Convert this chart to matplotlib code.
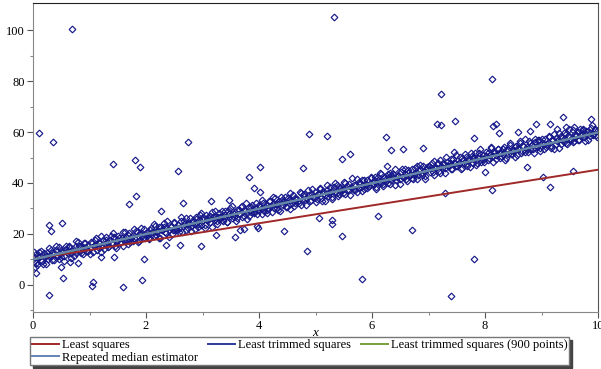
import numpy as np
import matplotlib
matplotlib.use("Agg")
import matplotlib.pyplot as plt

plt.rcParams['font.family'] = ['Liberation Serif', 'DejaVu Serif']

# points along the main band (first pass)
band_x = [
    0.02, 0.05, 0.08, 0.11, 0.14, 0.17, 0.20, 0.23, 0.26, 0.29, 0.31, 0.34, 0.37, 0.40, 0.43, 0.46, 0.49,
    0.52, 0.55, 0.58, 0.61, 0.64, 0.67, 0.70, 0.73, 0.76, 0.79, 0.82, 0.85, 0.88, 0.91, 0.94, 0.97,
    1.00, 1.03, 1.06, 1.09, 1.12, 1.15, 1.18, 1.21, 1.24, 1.27, 1.30, 1.33, 1.36, 1.39, 1.42, 1.45, 1.48,
    1.51, 1.54, 1.57, 1.60, 1.63, 1.66, 1.69, 1.72, 1.75, 1.78, 1.81, 1.84, 1.87, 1.90, 1.93, 1.96, 1.99,
    2.02, 2.05, 2.08, 2.11, 2.14, 2.17, 2.20, 2.23, 2.26, 2.29, 2.32, 2.35, 2.38, 2.41, 2.44, 2.47, 2.50,
    2.53, 2.56, 2.59, 2.62, 2.65, 2.68, 2.71, 2.74, 2.77, 2.80, 2.83, 2.86, 2.89, 2.92, 2.95, 2.98,
    3.01, 3.04, 3.07, 3.10, 3.13, 3.16, 3.19, 3.22, 3.25, 3.28, 3.31, 3.34, 3.37, 3.40, 3.43, 3.46, 3.49,
    3.52, 3.55, 3.58, 3.61, 3.64, 3.67, 3.70, 3.73, 3.76, 3.79, 3.82, 3.85, 3.88, 3.91, 3.94, 3.97,
    4.00, 4.03, 4.06, 4.09, 4.12, 4.15, 4.18, 4.21, 4.24, 4.27, 4.30, 4.33, 4.36, 4.39, 4.42, 4.45, 4.48,
    4.51, 4.54, 4.57, 4.60, 4.63, 4.66, 4.69, 4.72, 4.75, 4.78, 4.81, 4.84, 4.87, 4.90, 4.93, 4.96, 4.99,
    5.02, 5.05, 5.08, 5.11, 5.14, 5.17, 5.20, 5.23, 5.26, 5.29, 5.32, 5.35, 5.38, 5.41, 5.44, 5.47, 5.50,
    5.53, 5.56, 5.59, 5.62, 5.65, 5.68, 5.71, 5.74, 5.77, 5.80, 5.83, 5.86, 5.89, 5.92, 5.95, 5.98,
    6.01, 6.04, 6.07, 6.10, 6.13, 6.16, 6.19, 6.22, 6.25, 6.28, 6.31, 6.34, 6.37, 6.40, 6.43, 6.46, 6.49,
    6.52, 6.55, 6.58, 6.61, 6.64, 6.67, 6.70, 6.73, 6.76, 6.79, 6.82, 6.85, 6.88, 6.91, 6.94, 6.97,
    7.00, 7.03, 7.06, 7.09, 7.12, 7.15, 7.18, 7.21, 7.24, 7.27, 7.30, 7.33, 7.36, 7.39, 7.42, 7.45, 7.48,
    7.51, 7.54, 7.57, 7.60, 7.63, 7.66, 7.69, 7.72, 7.75, 7.78, 7.81, 7.84, 7.87, 7.90, 7.93, 7.96, 7.99,
    8.02, 8.05, 8.08, 8.11, 8.14, 8.17, 8.20, 8.23, 8.26, 8.29, 8.32, 8.35, 8.38, 8.41, 8.44, 8.47, 8.50,
    8.53, 8.56, 8.59, 8.62, 8.65, 8.68, 8.71, 8.74, 8.77, 8.80, 8.83, 8.86, 8.89, 8.92, 8.95, 8.98,
    9.01, 9.04, 9.07, 9.10, 9.13, 9.16, 9.19, 9.22, 9.25, 9.28, 9.31, 9.34, 9.37, 9.40, 9.43, 9.46, 9.49,
    9.52, 9.55, 9.58, 9.61, 9.64, 9.67, 9.70, 9.73, 9.76, 9.79, 9.82, 9.85, 9.88, 9.91, 9.94, 9.97, 10.00,
]
band_y = [
    11.1, 8.8, 11.0, 13.0, 9.8, 8.1, 12.7, 11.3, 10.1, 14.6, 11.2, 12.6, 9.7, 13.9, 11.5, 15.0, 10.9,
    12.9, 9.5, 14.3, 12.9, 15.4, 12.4, 14.2, 11.2, 17.3, 13.4, 15.2, 12.4, 14.8, 16.6, 13.4, 15.7,
    14.5, 16.8, 12.9, 15.7, 18.5, 14.7, 16.4, 13.1, 17.5, 16.1, 18.8, 15.0, 17.7, 16.2, 20.4, 15.2, 17.4,
    19.4, 16.3, 18.5, 15.4, 20.7, 17.8, 19.7, 16.8, 19.2, 21.9, 18.1, 20.7, 17.1, 20.3, 19.3, 21.9, 18.5,
    20.8, 18.3, 22.3, 20.0, 23.9, 19.6, 21.3, 18.5, 22.7, 21.4, 24.2, 20.2, 22.4, 19.0, 23.3, 21.7, 24.7,
    21.5, 23.7, 20.8, 26.7, 23.0, 25.1, 21.7, 23.9, 26.3, 23.0, 24.8, 21.8, 25.8, 24.1, 27.6, 23.5,
    25.5, 23.4, 27.4, 25.3, 27.2, 22.9, 26.8, 29.2, 25.2, 26.5, 25.7, 29.0, 25.2, 27.6, 24.8, 29.1, 27.1,
    31.0, 26.6, 28.8, 26.1, 29.4, 27.8, 31.1, 27.2, 29.1, 25.8, 30.7, 28.5, 31.5, 28.6, 30.2, 27.7,
    31.4, 29.9, 33.2, 28.9, 31.3, 28.2, 32.8, 31.0, 34.5, 30.1, 31.7, 29.6, 32.8, 34.5, 31.4, 33.1, 30.5,
    34.3, 29.7, 33.3, 35.2, 32.1, 33.9, 33.0, 36.6, 31.5, 35.2, 33.2, 34.3, 37.1, 32.8, 35.6, 34.6, 36.6,
    33.7, 35.8, 37.8, 33.1, 36.8, 35.3, 39.2, 35.0, 36.6, 33.7, 38.5, 36.4, 39.2, 35.5, 37.9, 37.3, 40.3,
    35.7, 39.0, 37.2, 38.5, 41.8, 37.1, 39.4, 36.3, 40.4, 38.5, 41.2, 37.5, 39.7, 41.3, 38.9, 42.5,
    39.1, 40.8, 37.7, 42.3, 40.4, 43.7, 39.5, 42.0, 40.6, 43.6, 39.5, 43.0, 41.9, 45.3, 41.0, 42.8, 39.6,
    44.2, 42.4, 45.4, 41.4, 44.0, 43.2, 45.4, 41.4, 44.1, 46.8, 43.0, 45.3, 43.8, 46.7, 42.8, 45.6,
    46.5, 44.4, 47.9, 43.3, 46.0, 47.6, 44.6, 49.2, 45.7, 47.3, 43.9, 48.1, 46.7, 49.3, 45.5, 47.9, 50.8,
    46.6, 47.9, 45.5, 49.7, 47.9, 50.3, 46.7, 49.4, 51.7, 48.0, 50.3, 47.2, 49.9, 51.9, 48.3, 50.8, 49.6,
    52.0, 49.2, 51.1, 53.6, 48.4, 52.2, 50.8, 53.4, 49.7, 51.9, 53.4, 49.0, 52.8, 51.5, 54.9, 51.2, 52.6,
    54.3, 50.8, 53.6, 56.3, 52.4, 54.5, 52.1, 54.0, 56.3, 53.3, 55.0, 51.9, 56.0, 54.3, 56.9, 53.7,
    55.6, 53.3, 57.1, 55.1, 58.3, 54.7, 56.9, 53.5, 57.6, 56.4, 59.5, 55.3, 57.5, 56.2, 59.4, 55.2, 58.5,
    57.1, 60.9, 56.6, 58.5, 60.0, 56.7, 59.2, 61.2, 57.9, 60.2, 56.9, 59.6, 61.4, 59.0, 61.2, 58.9, 60.8,
]

# second pass along the band (points in between the first pass)
band2_x = [
    0.015, 0.045, 0.075, 0.105, 0.135, 0.165, 0.195, 0.225, 0.255, 0.285, 0.315, 0.345, 0.375, 0.405, 0.435, 0.465, 0.495,
    0.525, 0.555, 0.585, 0.615, 0.645, 0.675, 0.705, 0.735, 0.765, 0.795, 0.825, 0.855, 0.885, 0.915, 0.945, 0.975,
    1.015, 1.045, 1.075, 1.105, 1.135, 1.165, 1.195, 1.225, 1.255, 1.285, 1.315, 1.345, 1.375, 1.405, 1.435, 1.465, 1.495,
    1.525, 1.555, 1.585, 1.615, 1.645, 1.675, 1.705, 1.735, 1.765, 1.795, 1.825, 1.855, 1.885, 1.915, 1.945, 1.975,
    2.015, 2.045, 2.075, 2.105, 2.135, 2.165, 2.195, 2.225, 2.255, 2.285, 2.315, 2.345, 2.375, 2.405, 2.435, 2.465, 2.495,
    2.525, 2.555, 2.585, 2.615, 2.645, 2.675, 2.705, 2.735, 2.765, 2.795, 2.825, 2.855, 2.885, 2.915, 2.945, 2.975,
    3.015, 3.045, 3.075, 3.105, 3.135, 3.165, 3.195, 3.225, 3.255, 3.285, 3.315, 3.345, 3.375, 3.405, 3.435, 3.465, 3.495,
    3.525, 3.555, 3.585, 3.615, 3.645, 3.675, 3.705, 3.735, 3.765, 3.795, 3.825, 3.855, 3.885, 3.915, 3.945, 3.975,
    4.015, 4.045, 4.075, 4.105, 4.135, 4.165, 4.195, 4.225, 4.255, 4.285, 4.315, 4.345, 4.375, 4.405, 4.435, 4.465, 4.495,
    4.525, 4.555, 4.585, 4.615, 4.645, 4.675, 4.705, 4.735, 4.765, 4.795, 4.825, 4.855, 4.885, 4.915, 4.945, 4.975,
    5.015, 5.045, 5.075, 5.105, 5.135, 5.165, 5.195, 5.225, 5.255, 5.285, 5.315, 5.345, 5.375, 5.405, 5.435, 5.465, 5.495,
    5.525, 5.555, 5.585, 5.615, 5.645, 5.675, 5.705, 5.735, 5.765, 5.795, 5.825, 5.855, 5.885, 5.915, 5.945, 5.975,
    6.015, 6.045, 6.075, 6.105, 6.135, 6.165, 6.195, 6.225, 6.255, 6.285, 6.315, 6.345, 6.375, 6.405, 6.435, 6.465, 6.495,
    6.525, 6.555, 6.585, 6.615, 6.645, 6.675, 6.705, 6.735, 6.765, 6.795, 6.825, 6.855, 6.885, 6.915, 6.945, 6.975,
    7.015, 7.045, 7.075, 7.105, 7.135, 7.165, 7.195, 7.225, 7.255, 7.285, 7.315, 7.345, 7.375, 7.405, 7.435, 7.465, 7.495,
    7.525, 7.555, 7.585, 7.615, 7.645, 7.675, 7.705, 7.735, 7.765, 7.795, 7.825, 7.855, 7.885, 7.915, 7.945, 7.975,
    8.015, 8.045, 8.075, 8.105, 8.135, 8.165, 8.195, 8.225, 8.255, 8.285, 8.315, 8.345, 8.375, 8.405, 8.435, 8.465, 8.495,
    8.525, 8.555, 8.585, 8.615, 8.645, 8.675, 8.705, 8.735, 8.765, 8.795, 8.825, 8.855, 8.885, 8.915, 8.945, 8.975,
    9.015, 9.045, 9.075, 9.105, 9.135, 9.165, 9.195, 9.225, 9.255, 9.285, 9.315, 9.345, 9.375, 9.405, 9.435, 9.465, 9.495,
    9.525, 9.555, 9.585, 9.615, 9.645, 9.675, 9.705, 9.735, 9.765, 9.795, 9.825, 9.855, 9.885, 9.915, 9.945, 9.975,
]
band2_y = [
    9.4, 12.1, 8.0, 11.0, 13.5, 9.5, 11.1, 8.1, 12.7, 11.2, 13.8, 9.9, 12.7, 15.3, 11.3, 10.3, 13.6,
    12.9, 11.3, 15.4, 12.7, 14.8, 10.7, 13.5, 14.7, 12.7, 17.0, 13.5, 14.9, 12.2, 16.4, 14.6, 13.5,
    12.1, 16.6, 15.2, 17.7, 13.9, 16.6, 19.3, 15.2, 14.3, 17.5, 16.9, 15.2, 19.4, 16.6, 18.8, 14.6, 17.5,
    18.6, 16.7, 20.9, 17.5, 18.8, 16.2, 20.3, 18.6, 17.4, 18.3, 21.0, 16.9, 19.9, 22.4, 18.4, 20.0,
    19.2, 18.2, 21.5, 20.8, 19.2, 23.3, 20.6, 22.7, 18.6, 21.4, 22.6, 20.6, 24.9, 21.4, 22.8, 20.1, 24.3,
    22.5, 21.4, 22.2, 25.0, 20.8, 23.9, 26.3, 22.4, 23.9, 21.0, 25.5, 24.1, 26.6, 22.8, 25.5, 28.2,
    26.7, 22.5, 25.4, 26.5, 24.6, 28.8, 25.4, 26.7, 24.1, 28.2, 26.5, 25.3, 26.2, 28.9, 24.8, 27.8, 30.3,
    26.3, 27.9, 24.9, 29.5, 28.0, 30.6, 26.7, 29.5, 32.1, 28.1, 27.1, 30.4, 29.7, 28.1, 32.2, 29.5,
    30.7, 28.0, 32.2, 30.4, 29.3, 30.1, 32.9, 28.7, 31.8, 34.2, 30.3, 31.8, 28.9, 33.4, 32.0, 34.5, 30.7,
    33.4, 36.1, 32.0, 31.1, 34.3, 33.7, 32.0, 36.2, 33.4, 35.6, 31.4, 34.3, 35.4, 33.5, 37.7, 34.3,
    32.7, 35.7, 38.2, 34.2, 35.8, 32.8, 37.4, 35.9, 38.5, 34.6, 37.4, 40.0, 36.0, 35.0, 38.3, 37.6, 36.0,
    40.1, 37.4, 39.5, 35.4, 38.2, 39.4, 37.4, 41.7, 38.2, 39.6, 36.9, 41.1, 39.3, 38.2, 39.0, 41.8,
    39.9, 42.4, 38.6, 41.3, 44.0, 39.9, 39.0, 42.2, 41.6, 39.9, 44.1, 41.3, 43.5, 39.3, 42.2, 43.3, 41.4,
    45.6, 42.2, 43.5, 40.9, 45.0, 43.3, 42.1, 43.0, 45.7, 41.6, 44.6, 47.1, 43.1, 44.7, 41.7, 46.3,
    46.7, 46.0, 44.4, 48.5, 45.8, 47.9, 43.8, 46.6, 47.8, 45.8, 50.1, 46.6, 48.0, 45.3, 49.5, 47.7, 46.6,
    47.4, 50.2, 46.0, 49.1, 51.5, 47.6, 49.1, 46.2, 50.7, 49.3, 51.8, 48.0, 50.7, 53.4, 49.3, 48.4,
    50.6, 51.7, 49.8, 54.0, 50.6, 51.9, 49.3, 53.4, 51.7, 50.5, 51.4, 54.1, 50.0, 53.0, 55.5, 51.5, 53.1,
    50.1, 54.7, 53.2, 55.8, 51.9, 54.7, 57.3, 53.3, 52.3, 55.6, 54.9, 53.3, 57.4, 54.7, 56.8, 52.7,
    57.2, 55.4, 54.3, 55.1, 57.9, 53.7, 56.8, 59.2, 55.3, 56.8, 53.9, 58.4, 57.0, 59.5, 55.7, 58.4, 61.1,
    57.0, 56.1, 59.3, 58.7, 57.0, 61.2, 58.4, 60.6, 56.4, 59.3, 60.4, 58.5, 62.7, 59.3, 60.6, 58.0,
]

# scattered points away from the band
out_x = [
    0.69, 0.11, 0.35, 1.41, 1.80, 1.90, 2.74, 0.28, 0.53, 1.06, 1.05, 1.60, 1.93, 1.96, 1.70, 1.82,
    2.65, 2.56, 2.27, 0.52, 0.28, 0.31, 0.05, 0.03, 0.65, 0.50, 0.80, 1.20, 1.44, 2.36, 2.60, 0.02,
    5.33, 4.88, 5.20, 6.25, 6.34, 5.47, 5.61, 4.02, 4.78, 6.27, 3.82, 3.91, 4.02, 3.15, 3.47, 2.97,
    3.24, 3.58, 3.66, 3.73, 3.96, 3.98, 4.44, 4.85, 5.47, 5.82, 5.29, 5.29, 5.06, 6.10,
    8.12, 7.22, 7.15, 7.22, 7.47, 8.15, 8.20, 8.25, 9.38, 9.88, 8.90, 9.15, 9.58, 9.43, 9.27, 8.80,
    8.58, 6.54, 6.90, 7.80, 7.45, 6.70, 7.80, 7.40, 8.12, 9.15, 9.56, 9.03, 7.30, 8.74, 8.00,
]
out_y = [
    100.4, 59.6, 56.0, 47.5, 49.0, 46.3, 56.0, -4.0, 2.7, 1.2, -0.4, -0.8, 2.0, 10.0, 31.8, 35.0,
    32.0, 44.7, 29.0, 24.2, 23.5, 21.0, 4.7, 7.0, 9.0, 7.0, 8.7, 11.0, 11.0, 15.7, 15.7, 13.0,
    105.0, 59.2, 58.5, 58.0, 53.0, 49.4, 51.3, 46.4, 45.8, 46.7, 42.4, 38.0, 36.5, 33.0, 33.3, 15.3,
    19.6, 18.8, 21.6, 22.0, 23.1, 22.3, 21.2, 13.3, 19.2, 2.4, 23.9, 25.5, 26.3, 27.0,
    80.6, 75.0, 63.0, 62.6, 64.4, 62.3, 63.0, 59.7, 65.8, 65.0, 63.0, 63.0, 62.0, 62.0, 61.0, 60.5,
    60.0, 53.3, 53.6, 57.6, 52.2, 21.6, 10.2, -4.3, 37.3, 38.4, 44.7, 42.4, 36.0, 46.2, 44.3,
]

# fitted lines: (intercept, slope)
fit_names = ['Least squares', 'Least trimmed squares',
             'Least trimmed squares (900 points)', 'Repeated median estimator']
fit_coef = [(10.2, 3.5), (10.0, 4.98), (10.0, 4.98), (10.0, 4.98)]
fit_colors = ['#a02828', '#2b3b9c', '#78a03c', '#6484b4']

fig = plt.figure(figsize=(6.01, 3.69), dpi=100)
ax = fig.add_axes([33 / 601, 1 - 312 / 369, 565 / 601, 309 / 369])

all_x = band_x + band2_x + out_x
all_y = band_y + band2_y + out_y
ax.plot(all_x, all_y, linestyle='none', marker='D', ms=3.4,
        mfc='none', mec='#16198a', mew=0.85, zorder=2)

xs = np.array([0.0, 10.0])
lines = []
for name, (b, m), c in zip(fit_names, fit_coef, fit_colors):
    ln, = ax.plot(xs, b + m * xs, color=c, lw=1.4, label=name, zorder=3)
    lines.append(ln)

ax.set_xlim(0, 10)
ax.set_ylim(-10.6, 110.6)
ax.set_xticks([0, 2, 4, 6, 8, 10])
ax.set_xticks([1, 3, 5, 7, 9], minor=True)
ax.set_yticks([0, 20, 40, 60, 80, 100])
ax.set_yticks([-10, 10, 30, 50, 70, 90], minor=True)
ax.tick_params(labelsize=9, length=4, width=0.8, color='#555555', pad=2)
ax.tick_params(which='minor', length=2.5, width=0.8, color='#888888')
ax.set_xlabel('x', fontstyle='italic', fontsize=9.5, labelpad=-4)

for side in ['left', 'bottom']:
    ax.spines[side].set_color('#888888')
ax.spines['top'].set_color('#222222')
ax.spines['right'].set_color('#555555')

order = [0, 3, 1, 2]
fig.legend([lines[i] for i in order], [fit_names[i] for i in order],
           loc='upper left', bbox_to_anchor=(30 / 601, 1 - 337 / 369), ncol=3,
           fontsize=9, frameon=True, fancybox=False, edgecolor='#777777',
           shadow={'color': '#444444', 'alpha': 1}, borderpad=0.15, labelspacing=0.05,
           handlelength=2.2, handletextpad=0.2, columnspacing=0.8, borderaxespad=0)

fig.savefig('out.png', dpi=100)
